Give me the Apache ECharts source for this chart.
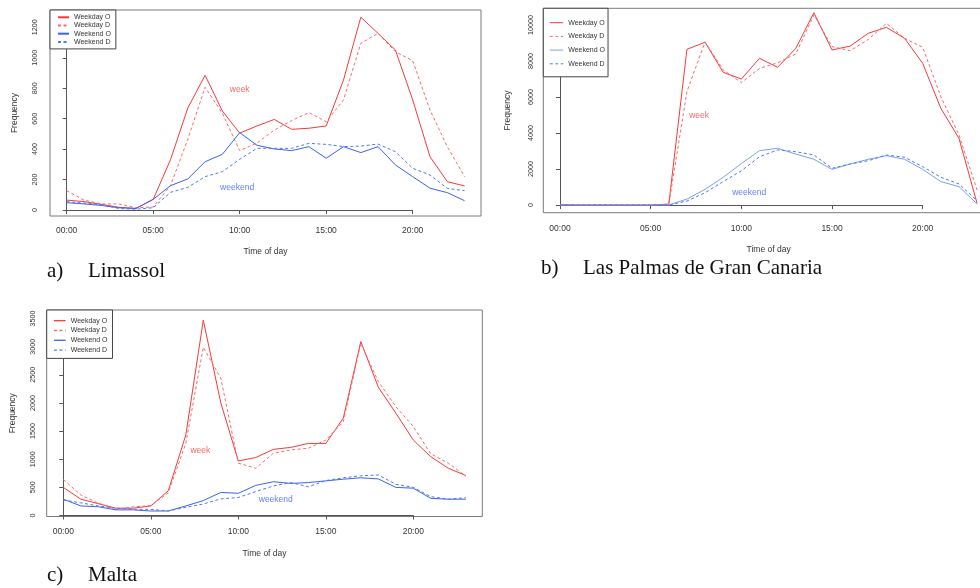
<!DOCTYPE html>
<html>
<head>
<meta charset="utf-8">
<script src="https://cdn.jsdelivr.net/npm/echarts@6/dist/echarts.min.js"></script>
<style>
html,body{margin:0;padding:0;background:#fff;}
#chart{width:980px;height:588px;}
</style>
</head>
<body>
<div id="chart"></div>
<script>
// ---------------- data ----------------
const hours = [0,1,2,3,4,5,6,7,8,9,10,11,12,13,14,15,16,17,18,19,20,21,22,23];
const xTickLabels = ['00:00','05:00','10:00','15:00','20:00'];
const seriesNames = ['Weekday O','Weekday D','Weekend O','Weekend D'];

const limassolWeekdayO = [65,55,37,18,10,70,330,670,885,650,505,552,595,530,537,552,854,1266,1160,1051,723,350,186,158];
const limassolWeekdayD = [127,65,40,40,15,20,160,465,806,635,390,440,525,587,640,580,723,1095,1160,1040,980,657,416,219];
const limassolWeekendO = [48,40,30,15,10,70,160,204,317,366,508,425,401,390,416,340,416,377,416,296,219,143,114,61];
const limassolWeekendD = [55,45,35,10,5,15,116,149,219,252,333,405,405,405,438,431,416,420,433,383,274,230,142,127];

const lasPalmasWeekdayO = [20,0,0,0,0,0,50,8650,9040,7370,7000,8150,7650,8700,10680,8610,8830,9540,9870,9260,7870,5370,3700,90];
const lasPalmasWeekdayD = [30,0,0,0,0,0,40,6300,9070,7500,6800,7590,7900,8390,10560,8800,8570,9200,10090,9260,8760,6020,3890,830];
const lasPalmasWeekendO = [0,0,0,0,0,0,0,330,870,1540,2300,3020,3150,2830,2540,1980,2280,2540,2740,2540,1980,1300,1020,60];
const lasPalmasWeekendD = [0,0,0,0,0,0,0,220,680,1300,1900,2680,3060,2960,2780,2040,2280,2460,2780,2650,2130,1540,1170,240];

const maltaWeekdayO = [500,290,210,130,130,170,440,1430,3470,2000,970,1030,1175,1210,1280,1280,1730,3090,2280,1820,1340,1045,840,710];
const maltaWeekdayD = [640,365,220,110,155,175,405,1280,2990,2440,930,840,1105,1165,1195,1340,1665,3060,2380,1935,1580,1095,930,700];
const maltaWeekendO = [290,170,155,100,100,80,80,170,265,410,395,535,600,570,585,615,645,670,650,500,485,305,290,290];
const maltaWeekendD = [275,225,170,130,110,110,80,145,205,295,320,425,525,585,510,620,670,705,720,555,500,335,290,315];

const yTopTicks = [1200, 10000, 3500];
const yTickSteps = [200, 2000, 500];
const captions = [['a)','Limassol'],['b)','Las Palmas de Gran Canaria'],['c)','Malta']];
// in-plot annotations: [text, hour, frequency]
const limassolNotes = [['week',10,790],['weekend',9.85,145]];
const lasPalmasNotes = [['week',7.67,4950],['weekend',10.43,690]];
const maltaNotes = [['week',7.83,1150],['weekend',12.14,275]];

const panelValues = [
  [limassolWeekdayO, limassolWeekdayD, limassolWeekendO, limassolWeekendD],
  [lasPalmasWeekdayO, lasPalmasWeekdayD, lasPalmasWeekendO, lasPalmasWeekendD],
  [maltaWeekdayO, maltaWeekdayD, maltaWeekendO, maltaWeekendD]
];
const panelNotes = [limassolNotes, lasPalmasNotes, maltaNotes];

// ---------------- layout & style ----------------
const SANS = 'Liberation Sans, Arial, sans-serif';
const SERIF = 'Liberation Serif, Times New Roman, serif';
const RED = '#f53a3a', RED_D = '#f76a6a', BLUE = '#3a62ee', BLUE_D = '#4d78f2';
const AXIS = '#555', BOX = '#7a7a7a', TXT = '#333';
const LAST_HOUR = 23, LAST_TICK_HOUR = 20;

const layout = [
  { frame:{left:50, top:10, width:431, height:206},
    axis:{left:66.7, top:27.3, width:346, height:182.7},
    xMargin:10, yMargin:11, xNameGap:31, yNameGap:31,
    legend:{left:50, top:10, padding:[3.8,5,3.5,7], gap:1.2, iw:11, lw:2},
    weekendOColor: BLUE,
    caption:{a:47, b:88, top:260.5} },
  { frame:{left:543.3, top:8.3, width:450.7, height:204.4},
    axis:{left:560, top:25, width:362.7, height:180},
    xMargin:11, yMargin:9, xNameGap:32, yNameGap:31,
    legend:{left:543.3, top:8.3, padding:[10.9,3,9.5,6], gap:6.7, iw:13.4, lw:1},
    weekendOColor: '#7d9ff2',
    caption:{a:541, b:583, top:257.5} },
  { frame:{left:46.7, top:310, width:435.6, height:206.5},
    axis:{left:63.3, top:318.5, width:350, height:197},
    xMargin:11, yMargin:10, xNameGap:32.5, yNameGap:29.5,
    legend:{left:46.7, top:310, padding:[7.2,5,4.8,6.6], gap:2.8, iw:11.7, lw:1.3},
    weekendOColor: BLUE,
    caption:{a:47, b:88, top:564.5} }
];

const grids = [], xAxes = [], yAxes = [], series = [], legends = [], titles = [];
const hidden = {axisLine:{show:false}, axisTick:{show:false}, axisLabel:{show:false}, splitLine:{show:false}};

layout.forEach((L, p) => {
  const gData = p * 3, gAxis = p * 3 + 1, gFrame = p * 3 + 2;
  const A = L.axis;
  // data grid: same scale as the axis grid, but spanning all 24 hours
  grids.push({left:A.left, top:A.top, width:A.width * LAST_HOUR / LAST_TICK_HOUR, height:A.height, show:false, containLabel:false, outerBoundsMode:'none'});
  grids.push({left:A.left, top:A.top, width:A.width, height:A.height, show:false, containLabel:false, outerBoundsMode:'none'});
  grids.push({left:L.frame.left, top:L.frame.top, width:L.frame.width, height:L.frame.height, show:true, borderColor:BOX, borderWidth:1, backgroundColor:'transparent', containLabel:false, outerBoundsMode:'none'});

  const xOff = (L.frame.top + L.frame.height) - (A.top + A.height);
  const yOff = A.left - L.frame.left;

  // data grid axes (hidden)
  xAxes.push(Object.assign({gridIndex:gData, type:'value', min:0, max:LAST_HOUR, show:false}, hidden));
  yAxes.push(Object.assign({gridIndex:gData, type:'value', min:0, max:yTopTicks[p], show:false}, hidden));

  // visible axes
  xAxes.push({
    gridIndex:gAxis, type:'value', min:0, max:LAST_TICK_HOUR, interval:5, offset:xOff,
    axisLine:{show:true, lineStyle:{color:AXIS, width:1}},
    axisTick:{show:true, length:4, lineStyle:{color:AXIS, width:1}},
    axisLabel:{show:true, margin:L.xMargin, fontSize:8.5, color:TXT, fontFamily:SANS,
      formatter:(v)=> xTickLabels[Math.round(v/5)] || ''},
    splitLine:{show:false}
  });
  yAxes.push({
    gridIndex:gAxis, type:'value', min:0, max:yTopTicks[p], interval:yTickSteps[p], offset:yOff,
    axisLine:{show:true, lineStyle:{color:AXIS, width:1}},
    axisTick:{show:true, length:4, lineStyle:{color:AXIS, width:1}},
    axisLabel:{show:true, rotate:90, margin:L.yMargin, fontSize:7.2, color:TXT, fontFamily:SANS,
      formatter:(v)=> String(v)},
    splitLine:{show:false}
  });

  // frame axes (names only)
  xAxes.push(Object.assign({gridIndex:gFrame, type:'value', min:0, max:1,
    name:'Time of day', nameLocation:'middle', nameGap:L.xNameGap,
    nameTextStyle:{fontSize:8.5, color:TXT, fontFamily:SANS}}, hidden));
  yAxes.push(Object.assign({gridIndex:gFrame, type:'value', min:0, max:1,
    name:'Frequency', nameLocation:'middle', nameGap:L.yNameGap,
    nameTextStyle:{fontSize:8.5, color:TXT, fontFamily:SANS}}, hidden));

  const styles = [
    {color:RED, dash:'solid', w:1},
    {color:RED_D, dash:[3,2.5], w:1},
    {color:L.weekendOColor, dash:'solid', w:1},
    {color:BLUE_D, dash:[3,2.5], w:1}
  ];
  panelValues[p].forEach((vals, k) => {
    series.push({
      type:'line', name:seriesNames[k], xAxisIndex:gData, yAxisIndex:gData,
      data: hours.map((h, i) => [h, vals[i]]),
      showSymbol:false, symbol:'none', clip:false, silent:true, animation:false,
      lineStyle:{color:styles[k].color, width:styles[k].w, type:styles[k].dash},
      itemStyle:{color:styles[k].color}
    });
  });

  series.push({
    type:'scatter', xAxisIndex:gData, yAxisIndex:gData, symbolSize:0.1, silent:true, animation:false,
    itemStyle:{color:'transparent'},
    data: panelNotes[p].map(n => ({
      value:[n[1], n[2]], name:n[0],
      label:{color: n[0] === 'week' ? '#f0433f' : '#3a62ee'}
    })),
    label:{show:true, position:'inside', formatter:'{b}', fontSize:8.5, fontFamily:SANS}
  });

  legends.push({
    data: seriesNames.map((n, k) => (k === 2 ? {name:n, lineStyle:{color:L.weekendOColor}} : {name:n})),
    orient:'vertical', left:L.legend.left, top:L.legend.top, padding:L.legend.padding,
    itemGap:L.legend.gap, itemWidth:L.legend.iw, itemHeight:7,
    borderColor:'#444', borderWidth:1, backgroundColor:'#fff', borderRadius:0,
    selectedMode:false,
    itemStyle:{opacity:0},
    lineStyle:{width:L.legend.lw},
    textStyle:{fontSize:7, color:TXT, fontFamily:SANS, lineHeight:7}
  });

  const capStyle = {fontFamily:SERIF, fontSize:21, fontWeight:'normal', color:'#111', lineHeight:21};
  titles.push({text:captions[p][0], left:L.caption.a, top:L.caption.top, padding:0, textStyle:capStyle});
  titles.push({text:captions[p][1], left:L.caption.b, top:L.caption.top, padding:0, textStyle:capStyle});
});

const chart = echarts.init(document.getElementById('chart'), null, {renderer:'canvas'});
chart.setOption({
  animation:false,
  backgroundColor:'#fff',
  title: titles,
  grid: grids,
  xAxis: xAxes,
  yAxis: yAxes,
  legend: legends,
  series: series
});
</script>
</body>
</html>
